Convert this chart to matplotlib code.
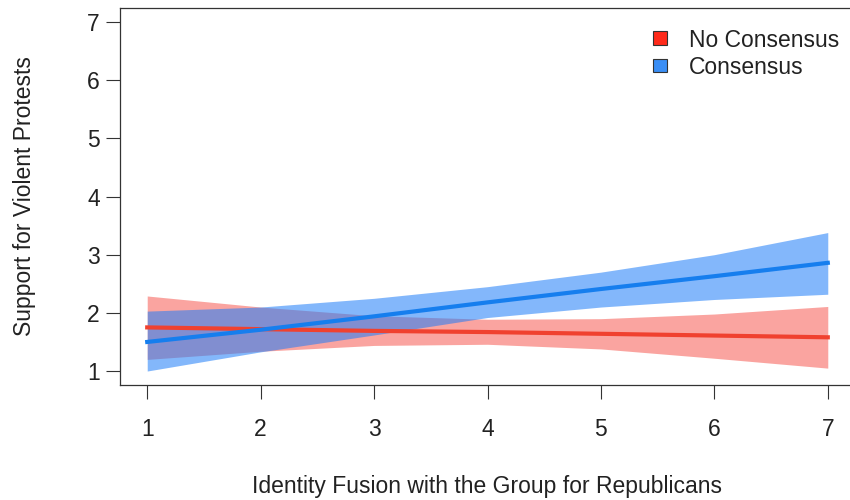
import matplotlib
matplotlib.use('Agg')
import matplotlib.pyplot as plt
from matplotlib.patches import Patch

plt.rcParams['font.family'] = ['Liberation Sans', 'DejaVu Sans']

# identity fusion levels
fusion = [1, 2, 3, 4, 5, 6, 7]

# predicted support, no consensus condition
no_cons_fit = [1.75, 1.72, 1.69, 1.67, 1.64, 1.61, 1.58]
no_cons_hi = [2.29, 2.10, 1.95, 1.89, 1.90, 1.98, 2.11]
no_cons_lo = [1.20, 1.34, 1.44, 1.46, 1.38, 1.22, 1.05]

# predicted support, consensus condition
cons_fit = [1.50, 1.71, 1.94, 2.18, 2.41, 2.63, 2.86]
cons_hi = [2.03, 2.10, 2.25, 2.45, 2.70, 3.00, 3.38]
cons_lo = [1.00, 1.33, 1.62, 1.92, 2.10, 2.23, 2.32]

ticks = [1, 2, 3, 4, 5, 6, 7]

red = '#F0412F'
blue = '#167EEE'
fs = 16.5

fig = plt.figure(figsize=(8.5, 5), dpi=100)
ax = fig.add_axes([120 / 850, 115 / 500, 735 / 850, 377 / 500])

ax.fill_between(fusion, no_cons_lo, no_cons_hi, color='#F4372C', alpha=0.45, lw=0)
ax.plot(fusion, no_cons_fit, color=red, lw=3)
ax.fill_between(fusion, cons_lo, cons_hi, color='#1E7DF8', alpha=0.55, lw=0)
ax.plot(fusion, cons_fit, color=blue, lw=3)

ax.set_xlim(0.76, 7.24)
ax.set_ylim(0.76, 7.24)
ax.set_xticks(ticks)
ax.set_yticks(ticks)
ax.tick_params(direction='out', length=10, width=0.8, labelsize=fs, color='#333333',
               labelcolor='#222222')
ax.tick_params(axis='x', pad=14)
ax.tick_params(axis='y', pad=4.5)
for s in ax.spines.values():
    s.set_linewidth(0.9)
    s.set_color('#333333')

ax.set_xlabel('Identity Fusion with the Group for Republicans', fontsize=fs,
              labelpad=24.5, color='#222222')
ax.set_ylabel('Support for Violent Protests', fontsize=fs, labelpad=37, color='#222222')

handles = [Patch(facecolor='#FF2A1A', edgecolor='#333333', lw=0.8),
           Patch(facecolor='#3A8EF5', edgecolor='#333333', lw=0.8)]
ax.legend(handles, ['No Consensus', 'Consensus'], loc='upper left',
          bbox_to_anchor=(0.709, 0.976), frameon=False, fontsize=fs, borderpad=0,
          handlelength=0.65, handleheight=0.55, handletextpad=0.95, labelspacing=0.18,
          labelcolor='#222222')

fig.savefig('out.png', dpi=100)
